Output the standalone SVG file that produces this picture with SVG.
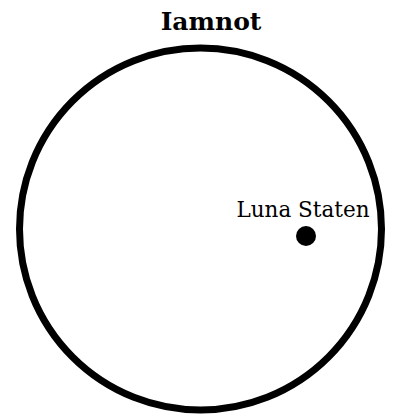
<svg xmlns="http://www.w3.org/2000/svg" width="396" height="417" viewBox="0 0 396 417">
<style>
.t{font-family:"DejaVu Serif","Liberation Serif",serif;fill:#000}
</style>
<rect width="396" height="417" fill="#fff"/>
<g id="boundary">
<circle cx="200.5" cy="229" r="181" fill="none" stroke="#000" stroke-width="7"/>
<text class="t" x="211" y="30" text-anchor="middle" font-size="25" font-weight="bold">Iamnot</text>
</g>
<g id="luna-staten">
<circle cx="306" cy="236" r="10" fill="#000"/>
<text class="t" x="303" y="217" text-anchor="middle" font-size="21.5">Luna Staten</text>
</g>
</svg>
